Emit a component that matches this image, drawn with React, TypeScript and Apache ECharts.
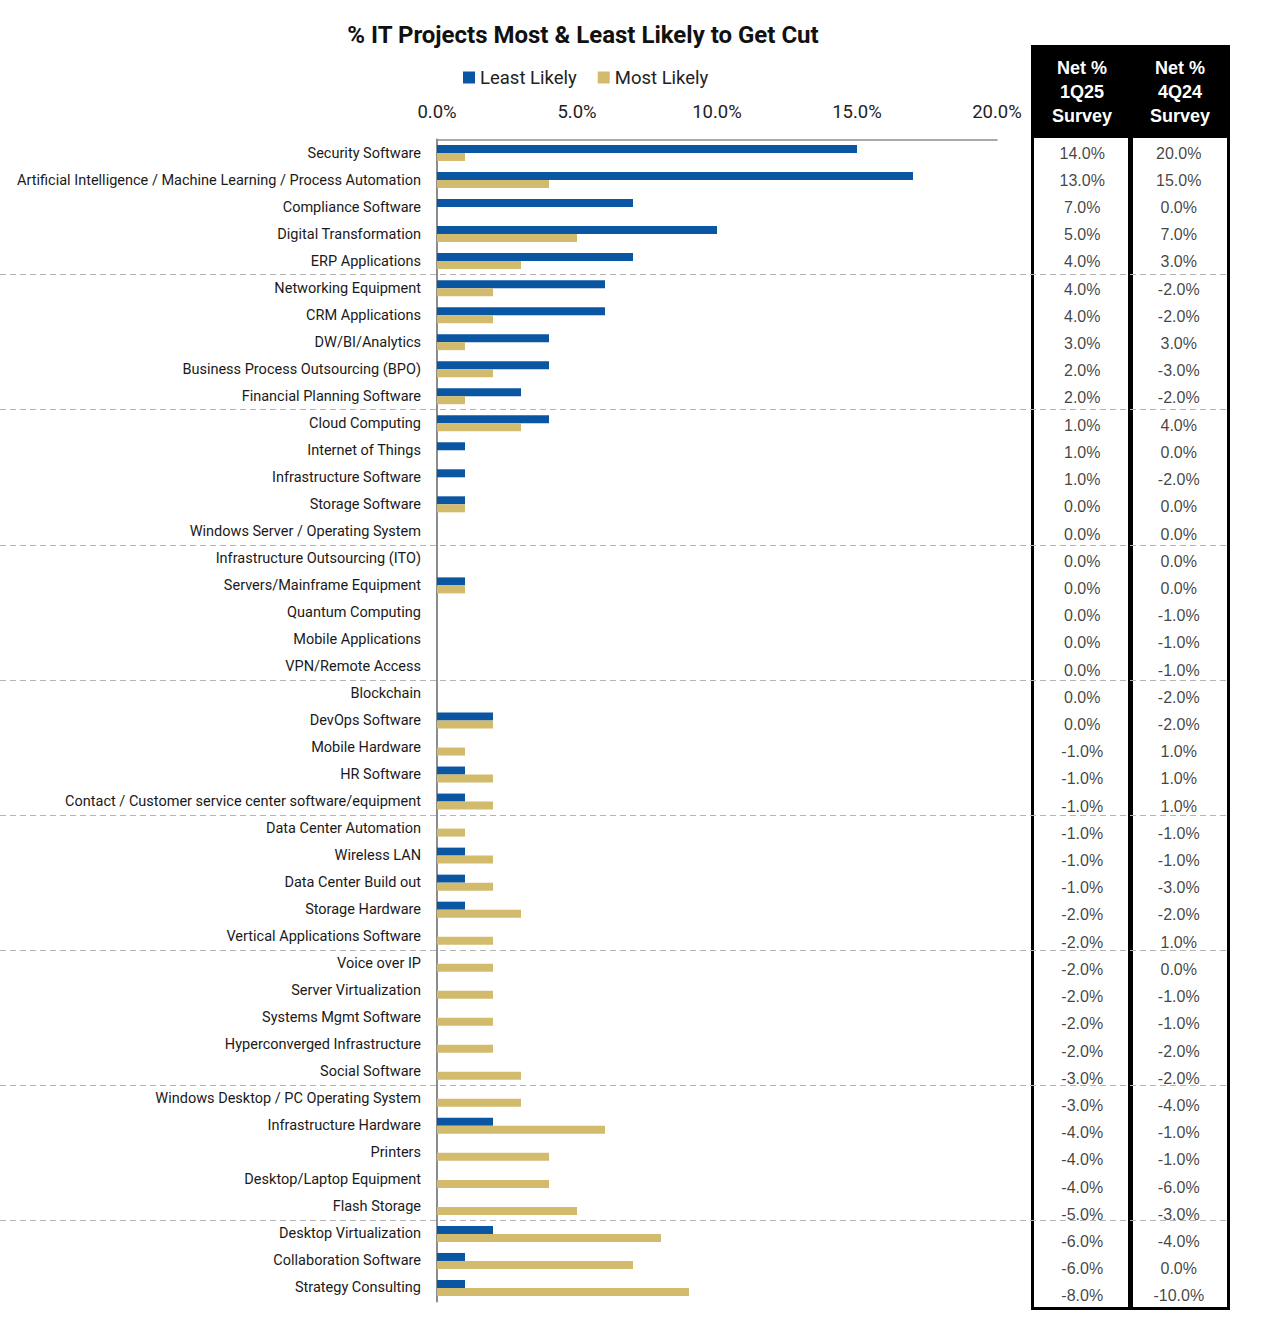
import React, { useEffect, useRef } from "react";
import * as echarts from "echarts";

const categories = [
  "Security Software",
  "Artificial Intelligence / Machine Learning / Process Automation",
  "Compliance Software",
  "Digital Transformation",
  "ERP Applications",
  "Networking Equipment",
  "CRM Applications",
  "DW/BI/Analytics",
  "Business Process Outsourcing (BPO)",
  "Financial Planning Software",
  "Cloud Computing",
  "Internet of Things",
  "Infrastructure Software",
  "Storage Software",
  "Windows Server / Operating System",
  "Infrastructure Outsourcing (ITO)",
  "Servers/Mainframe Equipment",
  "Quantum Computing",
  "Mobile Applications",
  "VPN/Remote Access",
  "Blockchain",
  "DevOps Software",
  "Mobile Hardware",
  "HR Software",
  "Contact / Customer service center software/equipment",
  "Data Center Automation",
  "Wireless LAN",
  "Data Center Build out",
  "Storage Hardware",
  "Vertical Applications Software",
  "Voice over IP",
  "Server Virtualization",
  "Systems Mgmt Software",
  "Hyperconverged Infrastructure",
  "Social Software",
  "Windows Desktop / PC Operating System",
  "Infrastructure Hardware",
  "Printers",
  "Desktop/Laptop Equipment",
  "Flash Storage",
  "Desktop Virtualization",
  "Collaboration Software",
  "Strategy Consulting",
];

const leastLikely = [
  15, 17, 7, 10, 7, 6, 6, 4, 4, 3, 4, 1, 1, 1, 0, 0, 1, 0, 0, 0, 0, 2, 0, 1, 1,
  0, 1, 1, 1, 0, 0, 0, 0, 0, 0, 0, 2, 0, 0, 0, 2, 1, 1,
];

const mostLikely = [
  1, 4, 0, 5, 3, 2, 2, 1, 2, 1, 3, 0, 0, 1, 0, 0, 1, 0, 0, 0, 0, 2, 1, 2, 2,
  1, 2, 2, 3, 2, 2, 2, 2, 2, 3, 3, 6, 4, 4, 5, 8, 7, 9,
];

const net1Q25 = [
  14, 13, 7, 5, 4, 4, 4, 3, 2, 2, 1, 1, 1, 0, 0, 0, 0, 0, 0, 0, 0, 0, -1, -1,
  -1, -1, -1, -1, -2, -2, -2, -2, -2, -2, -3, -3, -4, -4, -4, -5, -6, -6, -8,
];

const net4Q24 = [
  20, 15, 0, 7, 3, -2, -2, 3, -3, -2, 4, 0, -2, 0, 0, 0, 0, -1, -1, -1, -2, -2,
  1, 1, 1, -1, -1, -3, -2, 1, 0, -1, -1, -2, -2, -4, -1, -1, -6, -3, -4, 0, -10,
];

const seriesNames = ["Least Likely", "Most Likely"];
const tableHeaders = ["Net %\n1Q25\nSurvey", "Net %\n4Q24\nSurvey"];
const titleText = "% IT Projects Most & Least Likely to Get Cut";

// rows per dashed group band
const GROUP_SIZE = 5;

const BLUE = "#0B56A3";
const GOLD = "#D2BB6D";

export default function App() {
  const ref = useRef<HTMLDivElement>(null);

  useEffect(() => {
    document.body.style.margin = "0";
    if (!ref.current) return;
    const chart = echarts.init(ref.current, undefined, { renderer: "svg" });

    const pct = (v: number) => v.toFixed(1) + "%";
    const tableLabel = {
      show: true,
      position: "inside",
      formatter: (p: any) => pct(p.value[2]),
      fontFamily: "Liberation Sans",
      fontSize: 16,
      color: "#111",
    };

    // dashed separators: bands of GROUP_SIZE rows, from the end of the first group
    const nGroups = Math.floor(categories.length / GROUP_SIZE);
    const groupBands: string[] = [];
    for (let g = 1; g < nGroups; g++) {
      groupBands.push(categories[g * GROUP_SIZE]);
    }
    const rowH = (1317 - 15.5 - 139.5) / categories.length;
    const gridTop = 139.5;
    const sepTop = gridTop + rowH * GROUP_SIZE;
    const sepBottom = gridTop + rowH * GROUP_SIZE * nGroups;

    chart.setOption({
      animation: false,
      title: {
        text: titleText,
        left: 578,
        top: 18,
        textAlign: "center",
        textStyle: {
          fontFamily: "Roboto",
          fontWeight: "bold",
          fontSize: 24,
          color: "#111",
        },
      },
      legend: {
        data: seriesNames,
        left: 458,
        top: 63,
        icon: "rect",
        itemWidth: 12,
        itemHeight: 12,
        itemGap: 21,
        textStyle: { fontFamily: "Roboto", fontSize: 18.5, color: "#222" },
      },
      grid: [
        { left: 437, right: 269, top: gridTop, bottom: 15.5 },
        { left: 0, right: 36, top: sepTop, bottom: 1317 - sepBottom },
        { left: 1034, right: 39, top: 139.4, bottom: 7.4 },
      ],
      xAxis: [
        {
          gridIndex: 0,
          type: "value",
          position: "top",
          min: 0,
          max: 20,
          interval: 5,
          axisLine: { show: true, lineStyle: { color: "#8c8c8c", width: 1.5 } },
          axisTick: { show: false },
          splitLine: { show: false },
          axisLabel: {
            formatter: (v: number) => pct(v),
            fontFamily: "Roboto",
            fontSize: 18.5,
            color: "#222",
            margin: 18,
          },
        },
        { gridIndex: 1, type: "value", min: 0, max: 1, show: false },
        { gridIndex: 2, type: "value", min: 0, max: 2, show: false },
      ],
      yAxis: [
        {
          gridIndex: 0,
          type: "category",
          data: categories,
          inverse: true,
          axisLine: { show: true, lineStyle: { color: "#8c8c8c", width: 2 } },
          axisTick: { show: false },
          axisLabel: {
            fontFamily: "Roboto",
            fontSize: 14.5,
            color: "#1a1a1a",
            margin: 16,
            interval: 0,
          },
        },
        {
          gridIndex: 1,
          type: "category",
          data: groupBands,
          inverse: true,
          axisLine: { show: false },
          axisTick: { show: false },
          axisLabel: { show: false },
          splitLine: {
            show: true,
            interval: 0,
            lineStyle: { type: [6, 4], color: "#b4b4b4", width: 1 },
          },
        },
        {
          gridIndex: 2,
          type: "category",
          data: categories,
          inverse: true,
          show: false,
        },
      ],
      graphic: [
        { type: "rect", shape: { x: 1031, y: 45, width: 199, height: 93 }, style: { fill: "#000" } },
        { type: "rect", shape: { x: 1031, y: 45, width: 3, height: 1265 }, style: { fill: "#000" } },
        { type: "rect", shape: { x: 1227, y: 45, width: 3, height: 1265 }, style: { fill: "#000" } },
        { type: "rect", shape: { x: 1128, y: 45, width: 5, height: 1265 }, style: { fill: "#000" } },
        { type: "rect", shape: { x: 1031, y: 1307, width: 199, height: 3 }, style: { fill: "#000" } },
        {
          type: "text",
          x: 1082,
          y: 92,
          style: {
            text: tableHeaders[0],
            fill: "#fff",
            font: "bold 18px 'Liberation Sans'",
            lineHeight: 24,
            align: "center",
            verticalAlign: "middle",
          },
        },
        {
          type: "text",
          x: 1180,
          y: 92,
          style: {
            text: tableHeaders[1],
            fill: "#fff",
            font: "bold 18px 'Liberation Sans'",
            lineHeight: 24,
            align: "center",
            verticalAlign: "middle",
          },
        },
      ],
      series: [
        {
          name: seriesNames[0],
          type: "bar",
          xAxisIndex: 0,
          yAxisIndex: 0,
          data: leastLikely,
          barWidth: 8,
          barGap: "0%",
          itemStyle: { color: BLUE },
        },
        {
          name: seriesNames[1],
          type: "bar",
          xAxisIndex: 0,
          yAxisIndex: 0,
          data: mostLikely,
          barWidth: 8,
          barGap: "0%",
          itemStyle: { color: GOLD },
        },
        {
          name: "net1Q25",
          type: "scatter",
          xAxisIndex: 2,
          yAxisIndex: 2,
          symbolSize: 1,
          itemStyle: { color: "rgba(0,0,0,0)" },
          data: net1Q25.map((v, i) => [0.5, i, v]),
          label: tableLabel,
        },
        {
          name: "net4Q24",
          type: "scatter",
          xAxisIndex: 2,
          yAxisIndex: 2,
          symbolSize: 1,
          itemStyle: { color: "rgba(0,0,0,0)" },
          data: net4Q24.map((v, i) => [1.5, i, v]),
          label: tableLabel,
        },
      ],
    });

    return () => chart.dispose();
  }, []);

  return <div ref={ref} style={{ width: 1266, height: 1317 }} />;
}
